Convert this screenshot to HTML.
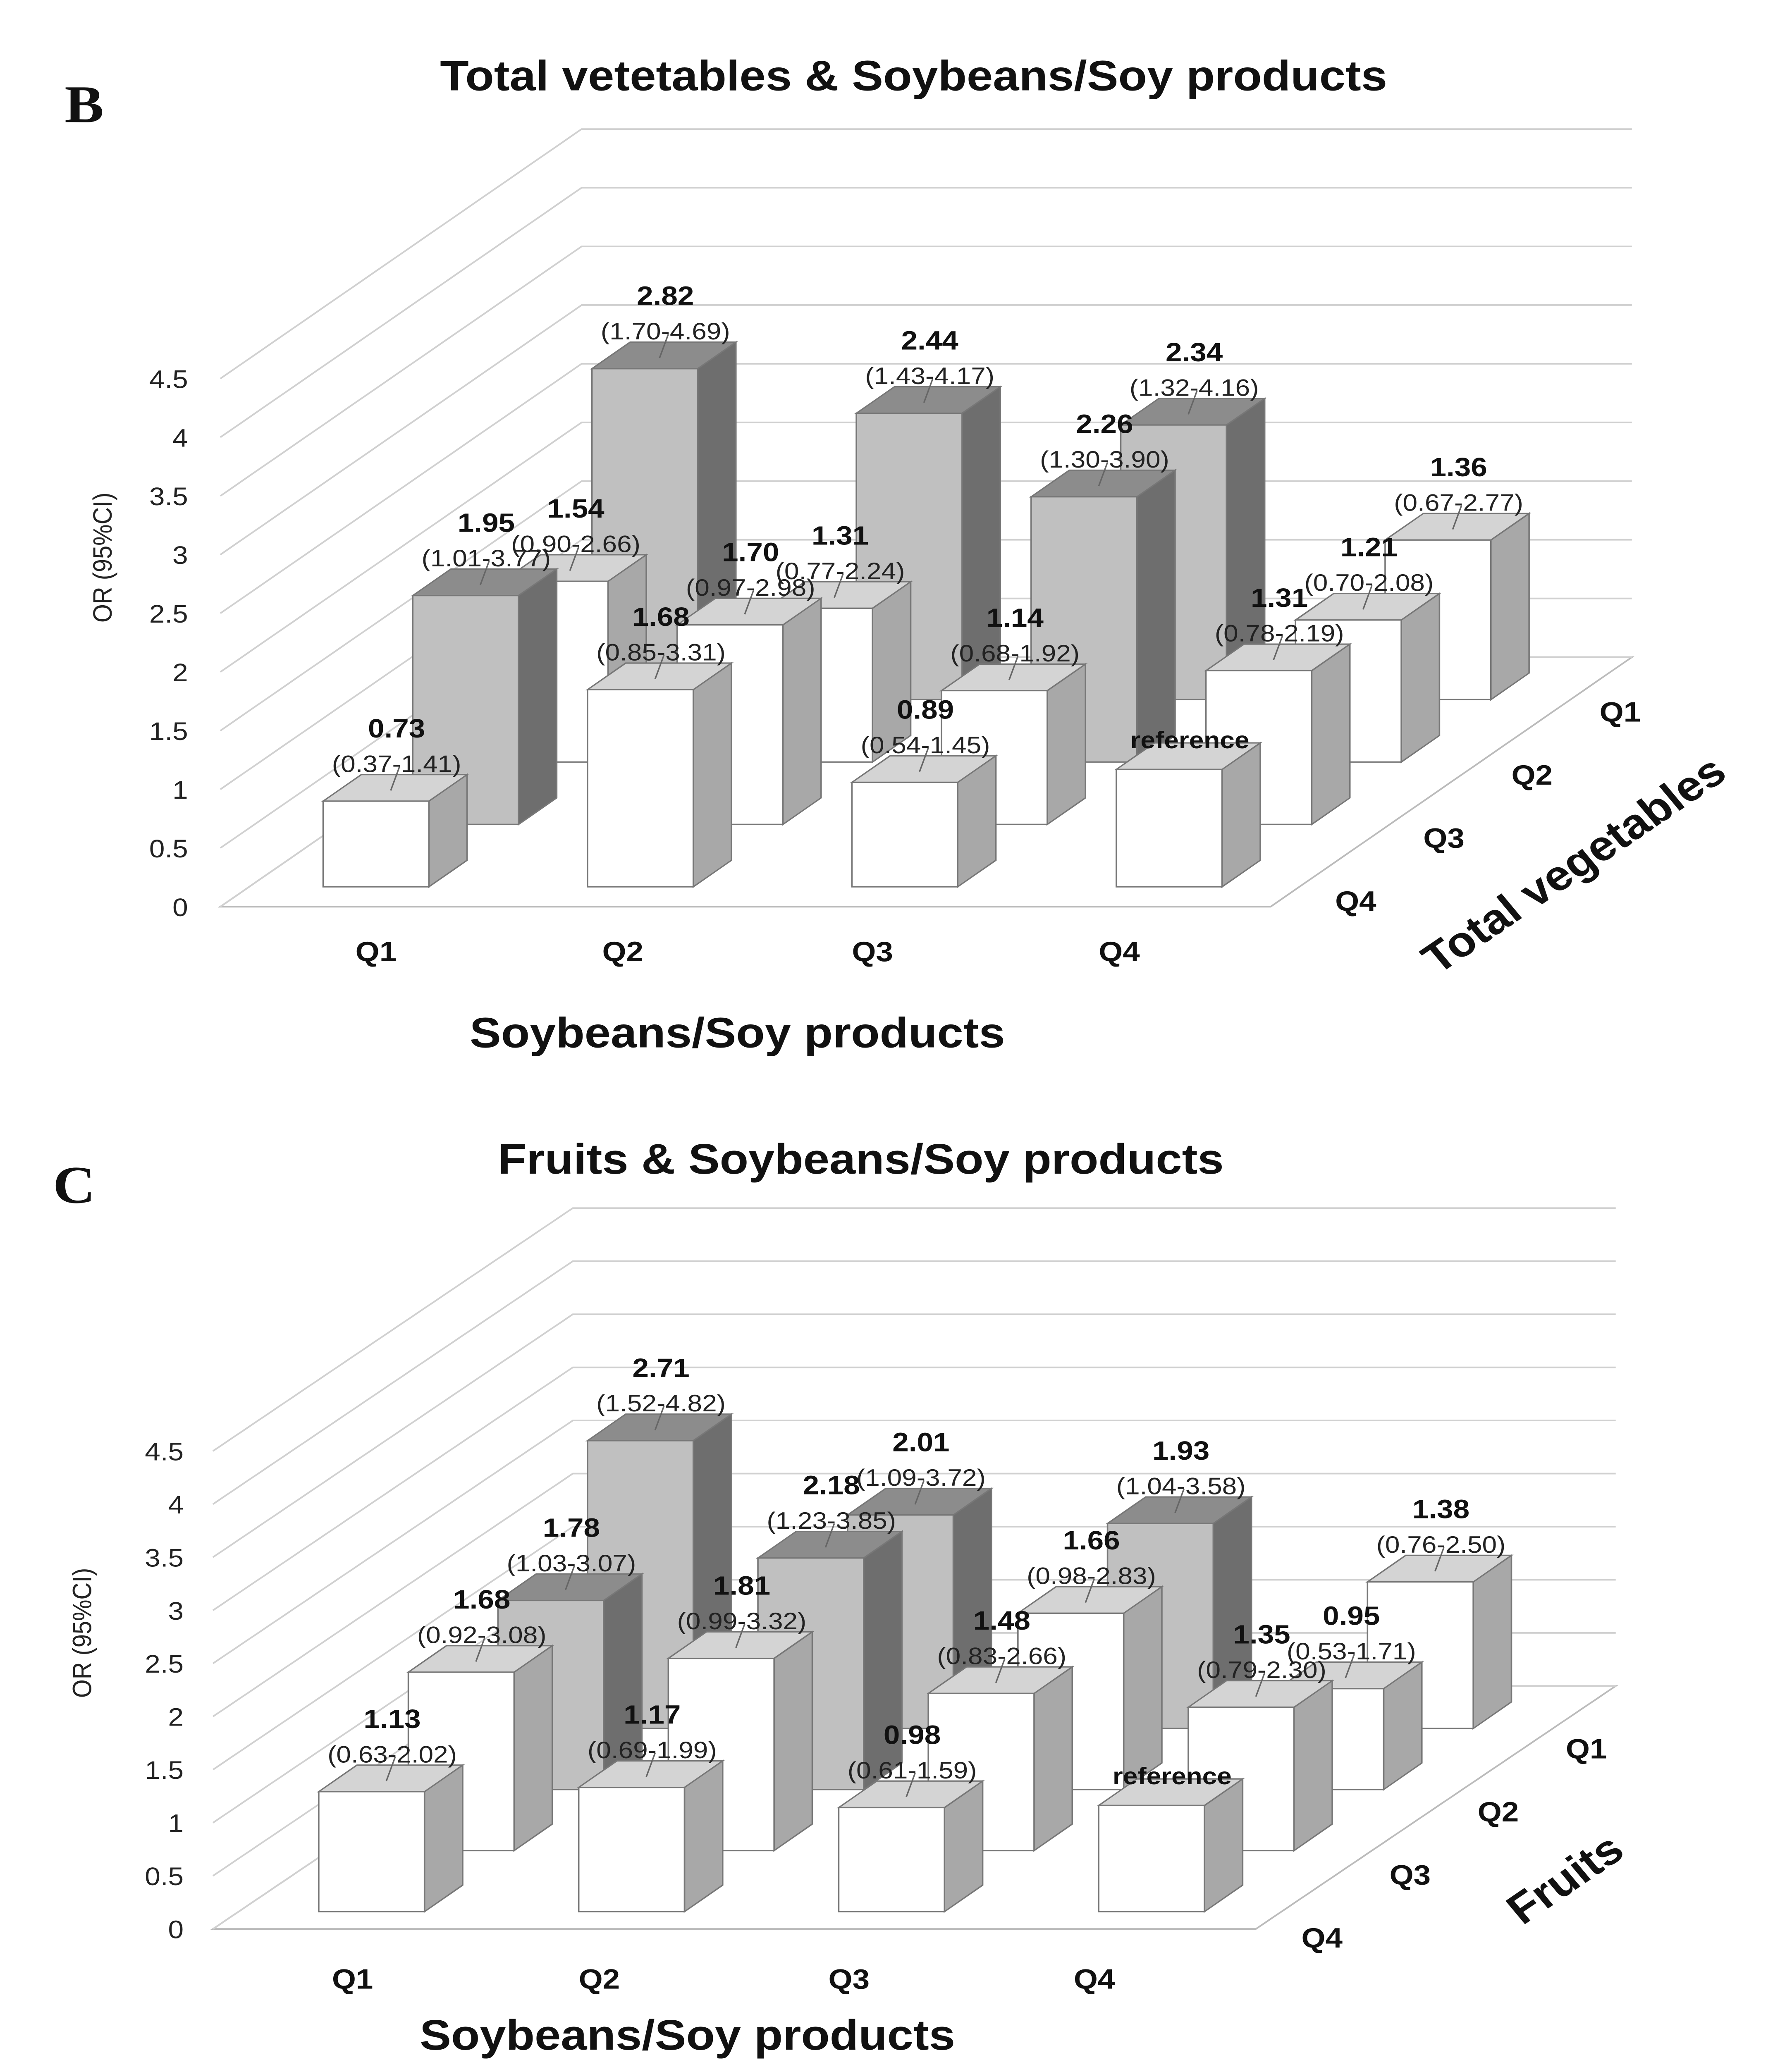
<!DOCTYPE html>
<html><head><meta charset="utf-8"><style>
html,body{margin:0;padding:0;background:#fff;width:100%;height:100%;overflow:hidden;}
svg{display:block;position:fixed;left:0;top:0;width:100vw;height:100vh;}
text{font-family:"Liberation Sans",sans-serif;}
</style></head><body>
<svg id="chart" xmlns="http://www.w3.org/2000/svg" viewBox="0 0 1220 1557" preserveAspectRatio="none"></svg>
<script>
const soyCats = ["Q1","Q2","Q3","Q4"];
const depthCats = ["Q4","Q3","Q2","Q1"]; // front to back
const yTicks = [0,0.5,1,1.5,2,2.5,3,3.5,4,4.5];
const yTickLabels = ["0","0.5","1","1.5","2","2.5","3","3.5","4","4.5"];
// rows: front (Q4) to back (Q1); columns soy Q1..Q4
const vegValues = [[0.73,1.68,0.89,1.00],[1.95,1.70,1.14,1.31],[1.54,1.31,2.26,1.21],[2.82,2.44,2.34,1.36]];
const vegCI = [["(0.37-1.41)","(0.85-3.31)","(0.54-1.45)",""],["(1.01-3.77)","(0.97-2.98)","(0.68-1.92)","(0.78-2.19)"],["(0.90-2.66)","(0.77-2.24)","(1.30-3.90)","(0.70-2.08)"],["(1.70-4.69)","(1.43-4.17)","(1.32-4.16)","(0.67-2.77)"]];
const vegSig = [[0,0,0,0],[1,0,0,0],[0,0,1,0],[1,1,1,0]];
const fruitValues = [[1.13,1.17,0.98,1.00],[1.68,1.81,1.48,1.35],[1.78,2.18,1.66,0.95],[2.71,2.01,1.93,1.38]];
const fruitCI = [["(0.63-2.02)","(0.69-1.99)","(0.61-1.59)",""],["(0.92-3.08)","(0.99-3.32)","(0.83-2.66)","(0.79-2.30)"],["(1.03-3.07)","(1.23-3.85)","(0.98-2.83)","(0.53-1.71)"],["(1.52-4.82)","(1.09-3.72)","(1.04-3.58)","(0.76-2.50)"]];
const fruitSig = [[0,0,0,0],[0,0,0,0],[1,1,0,0],[1,1,1,0]];

const svg = document.getElementById('chart');
const NS = "http://www.w3.org/2000/svg";
function el(tag, attrs, parent, txt){
  const e = document.createElementNS(NS, tag);
  for (const k in attrs) e.setAttribute(k, attrs[k]);
  if (txt !== undefined) e.textContent = txt;
  (parent||svg).appendChild(e);
  return e;
}

function drawChart(c){
  const g = el('g', {});
  
  
  const y0 = c.y0, x0 = c.x0, xR = c.xR, s = c.scale;
  const DX = c.wallDX, DY = c.wallDY;
  const yOf = v => y0 - v*s;
  const floor = el('polygon', {points:`${x0},${y0} ${xR},${y0} ${xR+DX},${y0+DY} ${x0+DX},${y0+DY}`, fill:'none', stroke:'#bbb', 'stroke-width':1.2}, g);
  
  
  yTicks.forEach((v,i)=>{
    const yy = yOf(v);
    const gl = el('polyline', {points:`${x0},${yy} ${x0+DX},${yy+DY} ${xR+DX},${yy+DY}`, fill:'none', stroke:'#d0d0d0', 'stroke-width':1.2}, g);
    
    
    const t = el('text', {x:c.tickX, y:yy+7, 'text-anchor':'end', 'font-size':19, fill:'#222'}, g, yTickLabels[i]);
    
    
  });
  const bw = 72, bdx = 26, bdy = -20;
  const labels = [];
  for (let r = c.values.length-1; r >= 0; r--){
    for (let k = 0; k < soyCats.length; k++){
      const v = c.values[r][k];
      const bx = c.barX0 + k*c.colStep + r*c.rowDX;
      const base = c.barBase + r*c.rowDY;
      const top = base - v*s;
      const sig = c.sig[r][k];
      const cf = sig ? '#c0c0c0' : '#ffffff', cs = sig ? '#6e6e6e' : '#a8a8a8', ct = sig ? '#8c8c8c' : '#d4d4d4';
      const bg = el('g', {}, g);
      
      
      el('polygon', {points:`${bx+bw},${top} ${bx+bw+bdx},${top+bdy} ${bx+bw+bdx},${base+bdy} ${bx+bw},${base}`, fill:cs, stroke:'#777', 'stroke-width':1}, bg);
      el('polygon', {points:`${bx},${top} ${bx+bdx},${top+bdy} ${bx+bw+bdx},${top+bdy} ${bx+bw},${top}`, fill:ct, stroke:'#777', 'stroke-width':1}, bg);
      el('rect', {x:bx, y:top, width:bw, height:base-top, fill:cf, stroke:'#777', 'stroke-width':1}, bg);
      labels.push({x: bx + bw/2 + 14, top: top, v: v, ci: c.ci[r][k], ref: (r===0 && k===3)});
    }
  }
  labels.forEach(L=>{
    const lg = el('g', {}, g);
    
    
    if (L.ref){
      el('text', {x:L.x, y:L.top-16, 'text-anchor':'middle', 'font-size':18, 'font-weight':'bold', fill:'#111'}, lg, 'reference');
      return;
    }
    el('line', {x1:L.x+2, y1:L.top-26, x2:L.x-4, y2:L.top-8, stroke:'#666', 'stroke-width':1}, lg);
    el('text', {x:L.x, y:L.top-48, 'text-anchor':'middle', 'font-size':20, 'font-weight':'bold', fill:'#111'}, lg, L.v.toFixed(2));
    el('text', {x:L.x, y:L.top-22, 'text-anchor':'middle', 'font-size':18, fill:'#222'}, lg, L.ci);
  });
  soyCats.forEach((q,k)=>{
    const t = el('text', {x:c.xLabX[k], y:c.xLabY, 'text-anchor':'middle', 'font-size':21, 'font-weight':'bold', fill:'#111'}, g, q);
    
    
  });
  depthCats.forEach((q,r)=>{
    const t = el('text', {x:c.dLab[0] + r*60, y:c.dLab[1] - r*47.5, 'text-anchor':'middle', 'font-size':21, 'font-weight':'bold', fill:'#111'}, g, q);
    
    
  });
  const tt = el('text', {x:c.title[0], y:c.title[1], 'text-anchor':'middle', 'font-size':32, 'font-weight':'bold', fill:'#111'}, g, c.titleText);
  
  
  const pl = el('text', {x:c.panel[0], y:c.panel[1], 'font-size':40, 'font-weight':'bold', fill:'#111', style:'font-family:"Liberation Serif",serif'}, g, c.panelText);
  
  
  const xt = el('text', {x:c.xTitle[0], y:c.xTitle[1], 'text-anchor':'middle', 'font-size':32, 'font-weight':'bold', fill:'#111'}, g, 'Soybeans/Soy products');
  
  
  const yt = el('text', {x:c.yTitle[0], y:c.yTitle[1], 'text-anchor':'middle', 'font-size':18, fill:'#222', transform:`rotate(-90 ${c.yTitle[0]} ${c.yTitle[1]})`}, g, 'OR (95%CI)');
  
  
  const dt = el('text', {x:c.dTitle[0], y:c.dTitle[1], 'text-anchor':'middle', 'font-size':32, 'font-weight':'bold', fill:'#111', transform:`rotate(-37 ${c.dTitle[0]} ${c.dTitle[1]})`}, g, c.dTitleText);
  
  
}

drawChart({name:'chart-b-vegetables', values:vegValues, ci:vegCI, sig:vegSig,
  y0:683, x0:150, xR:865, scale:88.4, wallDX:246, wallDY:-188, tickX:128,
  barX0:220, colStep:180, rowDX:61, rowDY:-47, barBase:668,
  xLabX:[256,424,594,762], xLabY:724, dLab:[923,686],
  title:[622,68], titleText:'Total vetetables & Soybeans/Soy products', panel:[44,92], panelText:'B',
  xTitle:[502,789], yTitle:[76,420], dTitle:[1078,660], dTitleText:'Total vegetables'});

drawChart({name:'chart-c-fruits', values:fruitValues, ci:fruitCI, sig:fruitSig,
  y0:1453, x0:145, xR:855, scale:80, wallDX:245, wallDY:-183, tickX:125,
  barX0:217, colStep:177, rowDX:61, rowDY:-46, barBase:1440,
  xLabX:[240,408,578,745], xLabY:1498, dLab:[900,1467],
  title:[586,884], titleText:'Fruits & Soybeans/Soy products', panel:[36,906],  panelText:'C',
  xTitle:[468,1544], yTitle:[62,1230], dTitle:[1072,1424], dTitleText:'Fruits'});
</script>
</body></html>
